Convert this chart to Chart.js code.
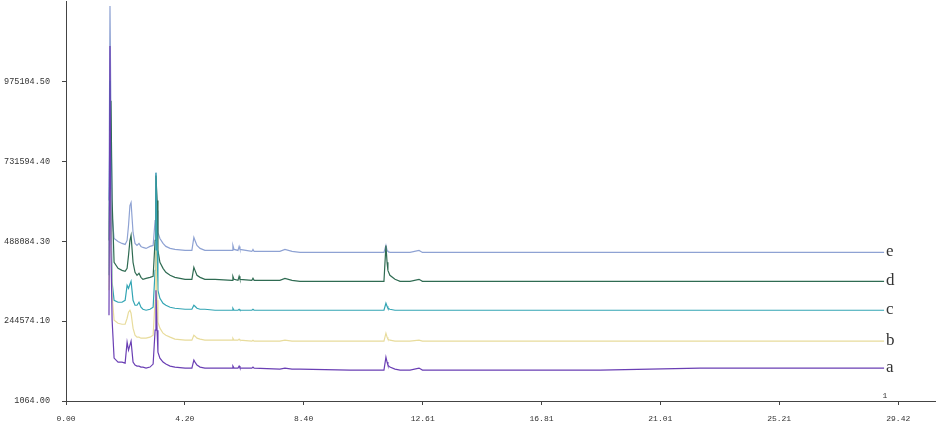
<!DOCTYPE html>
<html>
<head>
<meta charset="utf-8">
<script src="https://cdn.jsdelivr.net/npm/chart.js@4"></script>
<style>
  html, body { margin: 0; padding: 0; background: #fff; overflow: hidden; }
  #wrap { width: 941px; height: 439px; position: absolute; left: 0; top: -16px; }
</style>
</head>
<body>
<div id="wrap"><canvas id="chrom"></canvas></div>
<script>
// retention time (min), shared by all traces
const times = [1.52, 1.555, 1.59, 1.63, 1.70, 1.84, 1.98, 2.09, 2.16, 2.21, 2.26, 2.30, 2.37, 2.44, 2.51, 2.58, 2.65, 2.72, 2.83, 2.97,
  3.08, 3.15, 3.18, 3.22, 3.25, 3.32, 3.43, 3.53, 3.68, 3.85, 4.21, 4.45, 4.52, 4.56, 4.63, 4.74, 4.91, 5.27, 5.87, 5.90,
  5.94, 6.08, 6.12, 6.15, 6.57, 6.61, 6.65, 7.56, 7.74, 7.99, 8.27, 10.04, 11.24, 11.31, 11.35, 11.38, 11.45, 11.63, 11.81, 12.16,
  12.48, 12.60, 15.34, 18.88, 20.64, 22.41, 25.95, 28.92];

const traceA = [262800, 1084700, 460700, 247600, 132000, 119800, 119800, 116700, 180700, 156300, 171500, 183700, 119800, 110600, 107600, 107600, 104600, 104600, 101500, 104600,
  113700, 217200, 338900, 217200, 150200, 132000, 119800, 113700, 107600, 104600, 101500, 101500, 125900, 119800, 110600, 104600, 101500, 101500, 101500, 107600,
  101500, 101500, 107600, 101500, 101500, 104600, 101500, 98500, 101500, 98500, 98500, 95400, 95400, 135000, 119800, 110600, 104600, 98500, 95400, 95400,
  101500, 95400, 95400, 95400, 98500, 101500, 101500, 101500];

const traceB = [338900, 826000, 552000, 323700, 247600, 238500, 235400, 235400, 253700, 272000, 278100, 268900, 223300, 202000, 195900, 195900, 192800, 192800, 192800, 195900,
  202000, 308500, 460700, 308500, 241500, 223300, 208000, 202000, 195900, 189800, 186700, 186700, 202000, 198900, 192800, 189800, 186700, 186700, 186700, 192800,
  186700, 186700, 189800, 186700, 183700, 186700, 183700, 183700, 186700, 183700, 183700, 183700, 183700, 208000, 195900, 189800, 186700, 183700, 183700, 183700,
  186700, 183700, 183700, 183700, 183700, 183700, 183700, 183700];

const traceC = [384600, 978200, 612900, 363300, 308500, 302400, 302400, 308500, 354200, 345000, 357200, 366300, 308500, 293300, 293300, 302400, 287200, 281100, 278100, 281100,
  287200, 399800, 698100, 460700, 338900, 314600, 299400, 293300, 287200, 284100, 281100, 281100, 293300, 290200, 284100, 281100, 281100, 278100, 278100, 284100,
  278100, 278100, 281100, 278100, 278100, 281100, 278100, 278100, 278100, 278100, 278100, 278100, 278100, 299400, 290200, 284100, 281100, 278100, 278100, 278100,
  278100, 278100, 278100, 278100, 278100, 278100, 278100, 278100];

const traceD = [491100, 765100, 917300, 612900, 424200, 405900, 399800, 396800, 405900, 445500, 491100, 506400, 424200, 393700, 384600, 390700, 378500, 372400, 375500, 378500,
  381600, 491100, 689000, 612900, 460700, 424200, 405900, 393700, 384600, 378500, 372400, 372400, 408900, 399800, 384600, 378500, 372400, 372400, 369400, 381600,
  372400, 369400, 381600, 372400, 369400, 375500, 369400, 369400, 375500, 369400, 366300, 366300, 366300, 475900, 424200, 399800, 384600, 372400, 366300, 366300,
  372400, 366300, 366300, 366300, 366300, 366300, 366300, 366300];

const traceE = [612900, 1206400, 856400, 567200, 497200, 488100, 482000, 479000, 491100, 536800, 597700, 606800, 515500, 482000, 475900, 482000, 472900, 469800, 466800, 472900,
  475900, 552000, 698100, 582400, 515500, 497200, 482000, 472900, 466800, 463700, 460700, 460700, 500300, 491100, 475900, 466800, 460700, 460700, 460700, 475900,
  463700, 460700, 472900, 463700, 457600, 463700, 457600, 457600, 463700, 457600, 454600, 454600, 454600, 475900, 460700, 457600, 454600, 454600, 454600, 454600,
  460700, 454600, 454600, 454600, 454600, 454600, 454600, 454600];

const xTicks = [0.00, 4.20, 8.40, 12.61, 16.81, 21.01, 25.21, 29.42];
const yTicks = [1064.00, 244574.10, 488084.30, 731594.40, 975104.50];

const labels = ["a", "b", "c", "d", "e"];
const colors = ["#6a3fb4", "#e8dc9c", "#33a5b4", "#2f6b52", "#8ea2d3"];
const traces = [traceA, traceB, traceC, traceD, traceE];

function toPoints(vals) {
  return vals.map((v, i) => ({ x: times[i], y: v }));
}

// draw the a..e names at the end of each trace, plus the small "1" marker
const endLabels = {
  id: "endLabels",
  afterDatasetsDraw(chart) {
    const c = chart.ctx;
    c.save();
    c.fillStyle = "#333";
    c.font = "17px 'Liberation Serif'";
    c.textBaseline = "middle";
    chart.data.datasets.forEach((ds, i) => {
      const pts = chart.getDatasetMeta(i).data;
      const last = pts[pts.length - 1];
      c.fillText(labels[i], last.x + 2, last.y - 1);
    });
    c.font = "8px 'Liberation Mono'";
    c.textAlign = "center";
    c.textBaseline = "bottom";
    c.fillText("1", chart.scales.x.getPixelForValue(28.95), chart.scales.y.bottom - 1);
    c.restore();
  },
};

const ctx = document.getElementById("chrom");

new Chart(ctx, {
  type: "line",
  data: {
    datasets: traces.map((t, i) => ({
      label: labels[i],
      data: toPoints(t),
      borderColor: colors[i],
      backgroundColor: colors[i],
      borderWidth: 1.2,
      pointRadius: 0,
      tension: 0,
    })),
  },
  options: {
    responsive: true,
    maintainAspectRatio: false,
    animation: false,
    layout: { padding: { top: 0, right: 6, left: 0, bottom: 0 } },
    scales: {
      x: {
        type: "linear",
        min: 0,
        max: 30.72,
        afterBuildTicks: (axis) => { axis.ticks = xTicks.map((v) => ({ value: v })); },
        afterFit: (axis) => { axis.height = 22; },
        border: { color: "#444", width: 1 },
        grid: { drawOnChartArea: false, tickLength: 4, color: "#444" },
        ticks: {
          color: "#333",
          padding: 9,
          maxRotation: 0,
          font: { family: "'Liberation Mono'", size: 8 },
          callback: (v) => v.toFixed(2),
        },
      },
      y: {
        type: "linear",
        min: 1064,
        max: 1221668,
        afterBuildTicks: (axis) => { axis.ticks = yTicks.map((v) => ({ value: v })); },
        afterFit: (axis) => { axis.width = 66; },
        border: { color: "#444", width: 1 },
        grid: { drawOnChartArea: false, tickLength: 4, color: "#444" },
        ticks: {
          color: "#333",
          padding: 12,
          font: { family: "'Liberation Mono'", size: 8.5 },
          callback: (v) => v.toFixed(2),
        },
      },
    },
    plugins: {
      legend: { display: false },
      tooltip: { enabled: false },
    },
  },
  plugins: [endLabels],
});
</script>
</body>
</html>
